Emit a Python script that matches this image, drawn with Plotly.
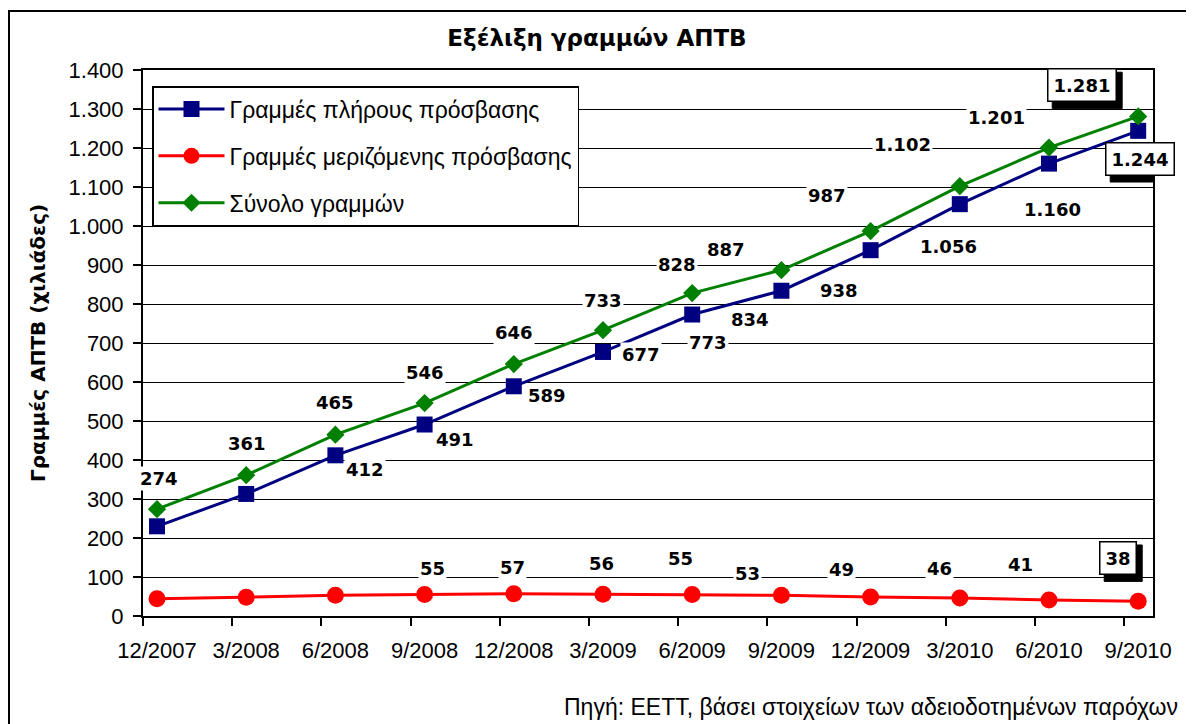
import plotly.graph_objects as go

categories = ["12/2007", "3/2008", "6/2008", "9/2008", "12/2008", "3/2009",
              "6/2009", "9/2009", "12/2009", "3/2010", "6/2010", "9/2010"]
full_access = [230, 313, 412, 491, 589, 677, 773, 834, 938, 1056, 1160, 1244]
shared_access = [44, 48, 53, 55, 57, 56, 55, 53, 49, 46, 41, 38]
total_lines = [274, 361, 465, 546, 646, 733, 828, 887, 987, 1102, 1201, 1281]

series_names = ["Γραμμές πλήρους πρόσβασης", "Γραμμές μεριζόμενης πρόσβασης", "Σύνολο γραμμών"]
title_text = "Εξέλιξη γραμμών ΑΠΤΒ"
y_title = "Γραμμές ΑΠΤΒ (χιλιάδες)"
source_text = "Πηγή: ΕΕΤΤ, βάσει στοιχείων των αδειοδοτημένων παρόχων"

# label placement (pixel shifts), None = no label
full_off = [None, None, (30, -14), (30, -15), (33, -9), (38, -3), (16, -28), (-31, -29),
            (-32, -40), (-11, -42), (4, -46), (2, -28)]
shared_off = [None, None, None, (8, 26), (-1, 26), (-2, 31), (-12, 36), (-34, 22),
              (-29, 27), (-20, 30), (-28, 36), (-20, 43)]
total_off = [(2, 31), (1, 32), (0, 32), (0, 31), (0, 32), (0, 30), (-15, 29), (-55, 21),
             (-44, 36), (-57, 42), (-52, 30), (-56, 31)]

# page is rendered with an 8px body margin
OFF = 8
W, H = 1194 - OFF, 724 - OFF
PL, PR, PT, PB = 143 - OFF, 1153 - OFF, 70 - OFF, 616 - OFF
PW, PH = PR - PL, PB - PT


def px(x):
    return (x - OFF - PL) / PW


def py(y):
    return (PB - (y - OFF)) / PH


def fmt(v):
    return f"{v:,}".replace(",", ".")


idx = list(range(len(categories)))
fig = go.Figure()
fig.add_trace(go.Scatter(x=idx, y=full_access, name=series_names[0], mode="lines+markers",
                         line=dict(color="#000080", width=3),
                         marker=dict(symbol="square", size=16, color="#000080"),
                         legendgroup="a"))
fig.add_trace(go.Scatter(x=idx, y=shared_access, name=series_names[1], mode="lines+markers",
                         line=dict(color="#FF0000", width=3),
                         marker=dict(symbol="circle", size=17, color="#FF0000"),
                         legendgroup="b"))
fig.add_trace(go.Scatter(x=idx, y=total_lines, name=series_names[2], mode="lines+markers",
                         line=dict(color="#008000", width=3),
                         marker=dict(symbol="diamond", size=14, color="#008000"),
                         legendgroup="c"))

FS = 18
label_font = dict(family="DejaVu Sans", size=FS, color="black", weight="bold")
annotations = []
shapes = [dict(type="rect", xref="paper", yref="paper",
               x0=px(9), x1=px(1215), y0=py(745), y1=py(11),
               line=dict(color="black", width=2), fillcolor="rgba(0,0,0,0)", layer="below")]
for vals, offs in ((full_access, full_off), (shared_access, shared_off), (total_lines, total_off)):
    last = len(vals) - 1
    for i, (v, o) in enumerate(zip(vals, offs)):
        if o is None:
            continue
        txt = fmt(v)
        if i == last:
            # drop shadow behind the boxed label, anchored at the data point
            n_dig = sum(c.isdigit() for c in txt)
            n_dot = len(txt) - n_dig
            bw = (n_dig * 0.696 + n_dot * 0.38) * FS + 13
            bh = FS * 1.3 + 13
            shapes.append(dict(type="rect", xref="x", yref="y", xsizemode="pixel", ysizemode="pixel",
                               xanchor=i, yanchor=v,
                               x0=o[0] - bw / 2 + 5, x1=o[0] + bw / 2 + 5,
                               y0=o[1] - bh / 2 - 5, y1=o[1] + bh / 2 - 5,
                               fillcolor="black", line=dict(color="black", width=1), layer="above"))
            annotations.append(dict(x=i, y=v, xref="x", yref="y", text=txt, showarrow=False,
                                    xshift=o[0], yshift=o[1], font=label_font,
                                    bgcolor="white", bordercolor="black", borderwidth=1.5, borderpad=5))
        else:
            annotations.append(dict(x=i, y=v, xref="x", yref="y", text=txt, showarrow=False,
                                    xshift=o[0], yshift=o[1], font=label_font,
                                    bgcolor="white", borderpad=1))

annotations.append(dict(x=px(38), y=0.5, xref="paper", yref="paper", text=y_title, textangle=-90,
                        showarrow=False, xanchor="center", yanchor="middle",
                        font=dict(family="DejaVu Sans", size=20, color="black", weight="bold")))
annotations.append(dict(x=px(1180), y=py(707), xref="paper", yref="paper",
                        text=source_text, showarrow=False, xanchor="right", yanchor="middle",
                        font=dict(family="Liberation Sans", size=23, color="black")))

fig.update_layout(
    width=W, height=H, autosize=False,
    margin=dict(l=PL, r=W - PR, t=PT, b=H - PB, autoexpand=False),
    paper_bgcolor="white", plot_bgcolor="white",
    separators=",.",
    title=dict(text=title_text, x=(597 - OFF) / W, xref="container", xanchor="center",
               y=1 - (38 - OFF) / H, yref="container", yanchor="middle",
               font=dict(family="DejaVu Sans", size=23, color="black", weight="bold")),
    font=dict(family="Liberation Sans", color="black"),
    legend=dict(x=px(152), y=py(86), xanchor="left", yanchor="top",
                bgcolor="white", bordercolor="black", borderwidth=1.5,
                font=dict(family="Liberation Sans", size=23, color="black"),
                itemwidth=66, tracegroupgap=14, traceorder="grouped"),
    annotations=annotations,
    shapes=shapes,
)
fig.update_xaxes(range=[-0.157, 11.166], tickvals=idx, ticktext=categories, ticks="",
                 tickfont=dict(family="Liberation Sans", size=22, color="black"),
                 showgrid=False, zeroline=False, showline=True, linecolor="black", linewidth=2,
                 mirror=True, ticklabelstandoff=14, automargin=False,
                 minor=dict(tick0=-0.157, dtick=1, ticks="outside", ticklen=8, tickcolor="black",
                            tickwidth=1.5, showgrid=False))
fig.update_yaxes(range=[0, 1400], dtick=100, tickformat=",d", ticks="outside", ticklen=8,
                 tickcolor="black", tickwidth=1.5, automargin=False,
                 tickfont=dict(family="Liberation Sans", size=22, color="black"),
                 showgrid=True, gridcolor="black", gridwidth=1, zeroline=False,
                 showline=True, linecolor="black", linewidth=2, mirror=True, ticklabelstandoff=5)

fig.write_html("out.html")
